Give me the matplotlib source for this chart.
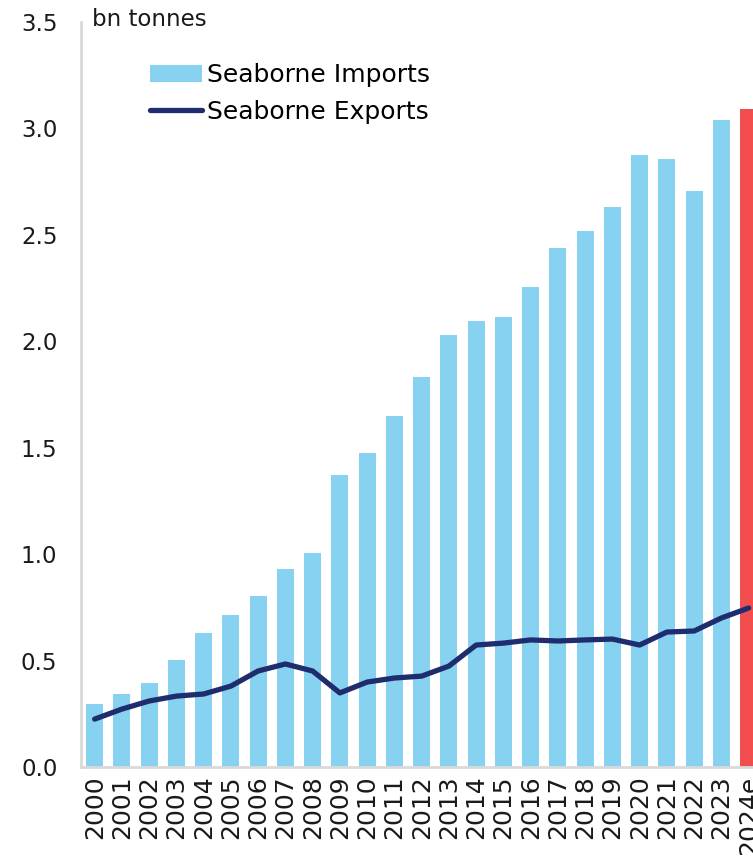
import matplotlib
matplotlib.use("Agg")
import matplotlib.pyplot as plt
from matplotlib.lines import Line2D
from matplotlib.patches import Patch

years = ["2000", "2001", "2002", "2003", "2004", "2005", "2006", "2007", "2008", "2009",
         "2010", "2011", "2012", "2013", "2014", "2015", "2016", "2017", "2018", "2019",
         "2020", "2021", "2022", "2023", "2024e"]
imports = [0.296, 0.343, 0.395, 0.503, 0.629, 0.714, 0.803, 0.930, 1.005, 1.372,
           1.475, 1.649, 1.832, 2.029, 2.095, 2.114, 2.255, 2.438, 2.518, 2.630,
           2.875, 2.856, 2.705, 3.039, 3.091]
exports = [0.225, 0.272, 0.310, 0.333, 0.343, 0.380, 0.451, 0.484, 0.451, 0.348,
           0.399, 0.418, 0.427, 0.474, 0.573, 0.582, 0.597, 0.592, 0.597, 0.601,
           0.573, 0.634, 0.639, 0.700, 0.747]
yticks = [0.0, 0.5, 1.0, 1.5, 2.0, 2.5, 3.0, 3.5]

bar_color = "#86d2f0"
est_color = "#f24d4f"
line_color = "#1f2d6e"

plt.rcParams["font.family"] = ["DejaVu Sans"]

fig = plt.figure(figsize=(7.53, 8.63), dpi=100)
ax = fig.add_axes([81 / 753, 1 - 767 / 863, 1 - 81 / 753, (767 - 22) / 863])

x = list(range(len(years)))
colors = [bar_color] * (len(years) - 1) + [est_color]
ax.bar(x, imports, width=0.62, color=colors, zorder=2)
ax.plot(x, exports, color=line_color, lw=3.8, solid_capstyle="round",
        solid_joinstyle="round", zorder=3)

ax.set_xlim(-0.5, 24.16)
ax.set_ylim(0, 3.5)
ax.set_yticks(yticks)
ax.set_yticklabels([f"{v:.1f}" for v in yticks], fontsize=16.5, color="#1a1a1a")
ax.set_xticks(x)
ax.set_xticklabels(years, rotation=90, fontsize=18, color="#1a1a1a")
ax.tick_params(axis="both", length=0)
ax.tick_params(axis="y", pad=17)
ax.tick_params(axis="x", pad=6)

for s in ["top", "right"]:
    ax.spines[s].set_visible(False)
for s in ["left", "bottom"]:
    ax.spines[s].set_color("#d9d9d9")
    ax.spines[s].set_linewidth(2)

fig.text(92 / 753, 1 - 19 / 863, "bn tonnes", fontsize=16.5, color="#1a1a1a",
         ha="left", va="center")

handles = [Patch(facecolor=bar_color, edgecolor="none"),
           Line2D([0], [0], color=line_color, lw=3.8, solid_capstyle="round")]
leg = ax.legend(handles, ["Seaborne Imports", "Seaborne Exports"], loc="upper left",
                bbox_to_anchor=(0.069, 0.975), frameon=False, fontsize=18,
                handlelength=2.1, handletextpad=0.2, labelspacing=0.5,
                handleheight=0.7)

fig.savefig("out.png", dpi=100)
